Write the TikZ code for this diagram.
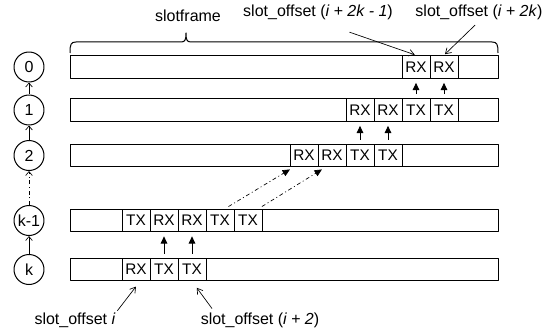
\documentclass[tikz,border=0pt]{standalone}
\usepackage{fontspec}
\setmainfont{Liberation Sans}
\usetikzlibrary{arrows.meta}

\tikzset{every picture/.style={line width=0.75pt}}

\begin{document}
\begin{tikzpicture}[x=0.75pt, y=-0.75pt,
                    line join=round,
                    bar/.style={draw, minimum width=321pt, minimum height=17pt, inner sep=0pt},
                    cell/.style={draw, minimum width=21pt, minimum height=17pt, inner sep=0pt,
                                 font=\fontsize{11.5}{12}\selectfont},
                    dev/.style={draw, circle, minimum size=22.5pt, inner sep=0pt,
                                font=\fontsize{12}{13}\selectfont},
                    lbl/.style={inner sep=1pt, font=\fontsize{12}{14}\selectfont},
                    link/.style={-{Straight Barb[length=3pt,width=5pt]}, line width=0.5pt},
                    ptr/.style={-{Straight Barb[length=4pt,width=5pt]}, line width=0.5pt},
                    up/.style={-{Triangle[length=5.5pt,width=5pt]}, shorten <=3pt, shorten >=3pt},
                    dashdot/.style={dash pattern=on 3pt off 2pt on 0.75pt off 2pt}]
  \useasboundingbox (0,0) rectangle (553,335);
  \def\xbar{284}
  \def\xdev{29}

  % slotframes
  \node[bar] (r0)  at (\xbar,67)    {};
  \node[bar] (r1)  at (\xbar,110)   {};
  \node[bar] (r2)  at (\xbar,155.5) {};
  \node[bar] (rk1) at (\xbar,220.5) {};
  \node[bar] (rk)  at (\xbar,269.5) {};

  % cells
  \foreach \lbl [count=\j from 10] in {RX,RX}
    \node[cell] (r0-\j) at ({136+28*\j},67) {\lbl};
  \foreach \lbl [count=\j from 8] in {RX,RX,TX,TX}
    \node[cell] (r1-\j) at ({136+28*\j},110) {\lbl};
  \foreach \lbl [count=\j from 6] in {RX,RX,TX,TX}
    \node[cell] (r2-\j) at ({136+28*\j},155.5) {\lbl};
  \foreach \lbl [count=\j from 0] in {TX,RX,RX,TX,TX}
    \node[cell] (rk1-\j) at ({136+28*\j},220.5) {\lbl};
  \foreach \lbl [count=\j from 0] in {RX,TX,TX}
    \node[cell] (rk-\j) at ({136+28*\j},269.5) {\lbl};

  % nodes
  \node[dev] (n0)  at (\xdev,67)    {0};
  \node[dev] (n1)  at (\xdev,110)   {1};
  \node[dev] (n2)  at (\xdev,155.5) {2};
  \node[dev] (nk1) at (\xdev,220.5) {k-1};
  \node[dev] (nk)  at (\xdev,269.5) {k};
  \draw[link] (n1) -- (n0);
  \draw[link] (n2) -- (n1);
  \draw[link, dashdot] (nk1) -- (n2);
  \draw[link] (nk) -- (nk1);

  % tx -> rx
  \foreach \j in {10,11}
    \draw[up] (r1-\j.north) -- (r0-\j.south);
  \foreach \j in {8,9}
    \draw[up] (r2-\j.north) -- (r1-\j.south);
  \foreach \j in {1,2}
    \draw[up] (rk-\j.north) -- (rk1-\j.south);
  \draw[up, dashdot, line width=0.5pt] ([xshift=3.75pt]rk1-3.north) -- ([xshift=-8pt]r2-6.south);
  \draw[up, dashdot, line width=0.5pt] ([xshift=-3pt]rk1-4.north east) -- ([xshift=-5pt]r2-7.south);

  % brace
  \draw (70,53) .. controls (70,44) and (71,42) .. (76,42) -- (181,42)
        .. controls (185,42) and (186,40) .. (186,33)
        .. controls (186,40) and (187,42) .. (191,42) -- (492,42)
        .. controls (497,42) and (498,44) .. (498,53);
  \node[lbl] (sf) at (188,16) {slotframe};

  % offsets
  \node[lbl] (offa) at (318,12)  {slot\_offset (\textit{i + 2k - 1})};
  \node[lbl] (offb) at (479,12)  {slot\_offset (\textit{i + 2k})};
  \node[lbl] (offi) at (75,320)  {slot\_offset \textit{i}};
  \node[lbl] (off2) at (260,320) {slot\_offset (\textit{i + 2})};
  \draw[ptr, shorten <=25pt, shorten >=1pt] (offa.south) -- (r0-10.north);
  \draw[ptr, shorten <=4pt, shorten >=1pt] (offb.south) -- (r0-11.north);
  \draw[ptr, shorten >=5pt] (offi.north east) -- ([xshift=3pt]rk-0.south);
  \draw[ptr, shorten <=2pt, shorten >=6pt] ([xshift=11pt]off2.north west) -- (rk-2.south);
\end{tikzpicture}
\end{document}
